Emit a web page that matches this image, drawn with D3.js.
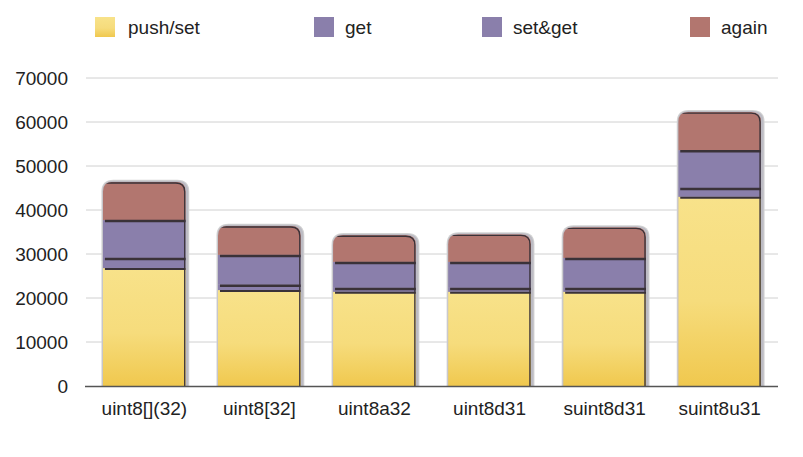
<!DOCTYPE html>
<html>
<head>
<meta charset="utf-8">
<script src="https://cdn.jsdelivr.net/npm/d3@7"></script>
<style>
  body { margin: 0; background: #fff; }
  svg { display: block; font-family: "Liberation Sans", Arial, Helvetica, sans-serif; }
</style>
</head>
<body>
<div id="chart"></div>
<script>
const categories = ["uint8[](32)", "uint8[32]", "uint8a32", "uint8d31", "suint8d31", "suint8u31"]
const seriesNames = ["push/set", "get", "set&get", "again"]
const pushSet = [26800, 21800, 21400, 21400, 21400, 43000]
const getVals = [2300, 1200, 900, 900, 900, 2000]
const setGet = [8600, 6800, 5900, 5900, 6800, 8600]
const again = [8700, 6600, 6100, 6300, 7000, 8700]
const yTicks = [0, 10000, 20000, 30000, 40000, 50000, 60000, 70000]

const width = 803, height = 457
const colors = ["url(#yellowGrad)", "#8a7fab", "#8a7fab", "#b2766f"]
const darkLine = "#3a3238"

const rows = categories.map((c, i) => ({
    cat: c,
    "push/set": pushSet[i],
    "get": getVals[i],
    "set&get": setGet[i],
    "again": again[i]
}))

const svg = d3.select("#chart").append("svg")
    .attr("width", width)
    .attr("height", height)

const defs = svg.append("defs")
const grad = defs.append("linearGradient")
    .attr("id", "yellowGrad")
    .attr("x1", 0).attr("y1", 0).attr("x2", 0).attr("y2", 1)
grad.append("stop").attr("offset", "0%").attr("stop-color", "#f8e28a")
grad.append("stop").attr("offset", "55%").attr("stop-color", "#f6dc7c")
grad.append("stop").attr("offset", "100%").attr("stop-color", "#f0c84e")

const x = d3.scaleBand()
    .domain(categories)
    .range([86, 778])
    .paddingInner(0.28)
    .paddingOuter(0.147)

const y = d3.scaleLinear()
    .domain([0, 70000])
    .range([386, 78])

// gridlines
svg.append("g")
    .selectAll("line")
    .data(yTicks.slice(1))
    .join("line")
        .attr("x1", 86)
        .attr("x2", 778)
        .attr("y1", d => y(d))
        .attr("y2", d => y(d))
        .attr("stroke", "#d0d0d0")
        .attr("stroke-width", 1)

// y axis labels
const yAxis = svg.append("g")
    .attr("transform", "translate(68,0)")
    .call(d3.axisLeft(y).tickValues(yTicks).tickSize(0).tickPadding(0).tickFormat(d3.format("d")))
yAxis.select(".domain").remove()
yAxis.selectAll("text")
    .attr("font-size", 19)
    .attr("fill", "#222")
    .attr("font-family", "Liberation Sans, Arial, sans-serif")
    .attr("dy", "0.36em")

const stack = d3.stack().keys(seriesNames)
const stacked = stack(rows)

const r = 10
function topRounded(x0, y0, w, h, rad) {
    return `M${x0},${y0 + h} L${x0},${y0 + rad} Q${x0},${y0} ${x0 + rad},${y0} ` +
        `L${x0 + w - rad},${y0} Q${x0 + w},${y0} ${x0 + w},${y0 + rad} L${x0 + w},${y0 + h} Z`
}

const bw = x.bandwidth()
const totals = categories.map((c, i) => pushSet[i] + getVals[i] + setGet[i] + again[i])

const bars = svg.append("g").attr("class", "bars")

categories.forEach((cat, i) => {
    const bx = x(cat)
    const top = y(totals[i])
    const h = y(0) - top
    const g = bars.append("g")

    // shadow halo
    g.append("path")
        .attr("d", topRounded(bx - 1.5, top - 2, bw + 5, h + 2, r + 2))
        .attr("fill", "#d3d3d3")
    g.append("path")
        .attr("d", topRounded(bx - 0.5, top - 1, bw + 3, h + 1, r + 1))
        .attr("fill", "#bdbcc4")

    defs.append("clipPath")
        .attr("id", "clip" + i)
        .append("path")
        .attr("d", topRounded(bx, top, bw, h, r))

    const seg = g.append("g").attr("clip-path", `url(#clip${i})`)
    stacked.forEach((s, k) => {
        const d = s[i]
        seg.append("rect")
            .attr("x", bx)
            .attr("y", y(d[1]))
            .attr("width", bw)
            .attr("height", y(d[0]) - y(d[1]))
            .attr("fill", colors[k])
    })
    // dark separator lines at segment tops
    stacked.forEach((s, k) => {
        const d = s[i]
        if (k === 3) return
        seg.append("line")
            .attr("x1", bx + 2)
            .attr("x2", bx + bw)
            .attr("y1", y(d[1]) + 1)
            .attr("y2", y(d[1]) + 1)
            .attr("stroke", darkLine)
            .attr("stroke-width", k === 0 ? 2 : 2.5)
    })
    // thin outline on top and right edge
    seg.append("path")
        .attr("d", `M${bx + 3},${top + 1.2} L${bx + bw - r},${top + 1.2} Q${bx + bw - 1},${top + 1.2} ${bx + bw - 1},${top + r} L${bx + bw - 1},${y(0)}`)
        .attr("fill", "none")
        .attr("stroke", darkLine)
        .attr("stroke-width", 1.4)
})

// x axis baseline
svg.append("line")
    .attr("x1", 85)
    .attr("x2", 778)
    .attr("y1", 386.5)
    .attr("y2", 386.5)
    .attr("stroke", "#555")
    .attr("stroke-width", 1.3)

// x labels
svg.append("g")
    .selectAll("text")
    .data(categories)
    .join("text")
        .attr("x", d => x(d) + bw / 2)
        .attr("y", 415)
        .attr("text-anchor", "middle")
        .attr("font-size", 19)
        .attr("fill", "#222")
        .text(d => d)

// legend
const legendX = [95, 314, 482, 690]
const legendColors = ["url(#yellowGrad)", "#8a7fab", "#8a7fab", "#b2766f"]
const legend = svg.append("g")
    .selectAll("g")
    .data(seriesNames)
    .join("g")
        .attr("transform", (d, i) => `translate(${legendX[i]},17)`)
legend.append("rect")
    .attr("width", 20)
    .attr("height", 20)
    .attr("fill", (d, i) => legendColors[i])
legend.append("text")
    .attr("x", (d, i) => [33, 31, 31, 31][i])
    .attr("y", 17)
    .attr("font-size", 19)
    .attr("fill", "#222")
    .text(d => d)
</script>
</body>
</html>
